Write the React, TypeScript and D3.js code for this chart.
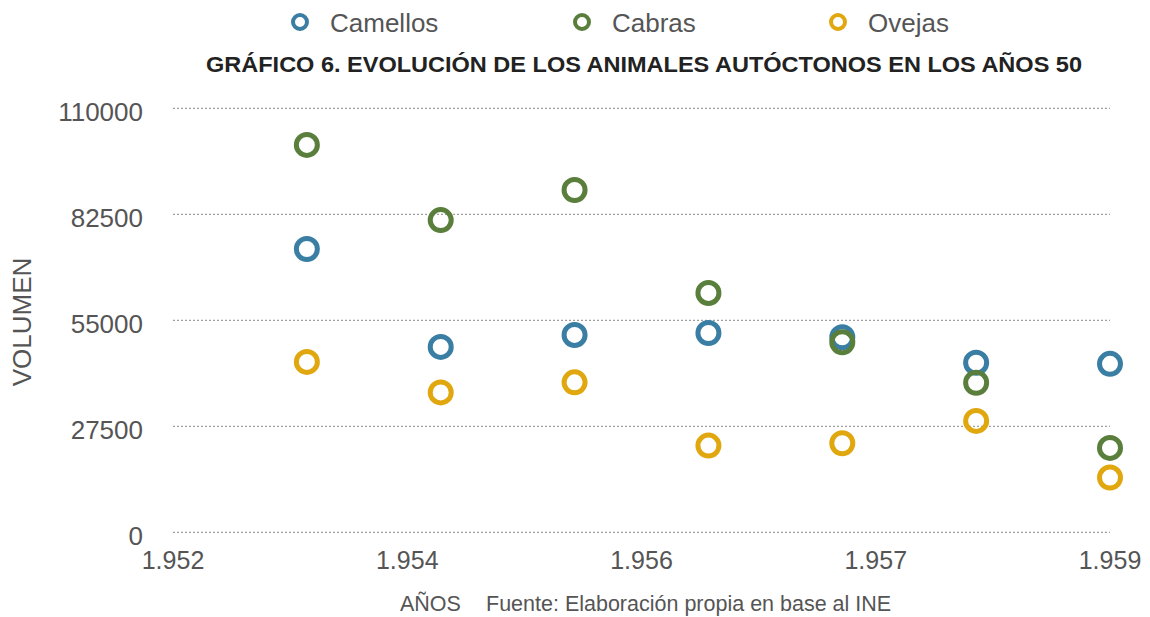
import * as d3 from "d3";

const years = [1953, 1954, 1955, 1956, 1957, 1958, 1959];
const camellos = [73500, 48100, 51200, 51700, 50600, 44000, 43700];
const cabras = [100500, 81000, 88800, 62100, 49300, 38800, 21900];
const ovejas = [44200, 36300, 38900, 22500, 23100, 28900, 14200];
const seriesNames = ["Camellos", "Cabras", "Ovejas"];
const seriesColors = ["#3a7ea3", "#5a7f3c", "#e1a70f"];
const yTickValues = [0, 27500, 55000, 82500, 110000];
const xTickValues = [1952, 1953.75, 1955.5, 1957.25, 1959];

const width = 1150;
const height = 617;
const margin = { top: 108.3, right: 40, bottom: 85, left: 173 };

const esLocale = d3.formatLocale({
  decimal: ",",
  thousands: ".",
  grouping: [3],
  currency: ["", " €"]
});
const fmtYear = esLocale.format(",.0f");

export default function App() {
  const series = [camellos, cabras, ovejas];

  const xScale = d3.scaleLinear()
    .domain([1952, 1959])
    .range([margin.left, 1110]);

  const yScale = d3.scaleLinear()
    .domain([0, 110000])
    .range([532.3, margin.top]);

  const legendX = [300, 582, 838];
  const textColor = "#555";
  const font = "'Liberation Sans', Arial, sans-serif";

  return (
    <svg
      width={width}
      height={height}
      style={{ position: "absolute", left: 0, top: 0, background: "#fff" }}
      fontFamily={font}
    >
      {/* Legend */}
      {seriesNames.map((name, i) => (
        <g key={name}>
          <circle cx={legendX[i]} cy={22} r={7} fill="none" stroke={seriesColors[i]} strokeWidth={4} />
          <text x={legendX[i] + 30} y={31.5} fontSize={26} fill={textColor}>{name}</text>
        </g>
      ))}

      {/* Title */}
      <text
        x={206}
        y={72}
        fontSize={21.5}
        fontWeight="bold"
        fill="#222"
        textLength={876}
        lengthAdjust="spacingAndGlyphs"
      >
        GRÁFICO 6. EVOLUCIÓN DE LOS ANIMALES AUTÓCTONOS EN LOS AÑOS 50
      </text>

      {/* Grid + y ticks */}
      {yTickValues.map(t => (
        <g key={t}>
          <line
            x1={xScale(1952)}
            x2={xScale(1959)}
            y1={yScale(t)}
            y2={yScale(t)}
            stroke="#888"
            strokeWidth={1}
            strokeDasharray="2,2"
          />
          <text
            x={143}
            y={yScale(t) + 12.5}
            textAnchor="end"
            fontSize={26}
            fill={textColor}
          >
            {t}
          </text>
        </g>
      ))}

      {/* X ticks */}
      {xTickValues.map(t => (
        <text
          key={t}
          x={xScale(t)}
          y={569}
          textAnchor="middle"
          fontSize={25}
          fill={textColor}
        >
          {fmtYear(Math.round(t))}
        </text>
      ))}

      {/* Axis titles */}
      <text
        transform={`translate(31,322) rotate(-90)`}
        textAnchor="middle"
        fontSize={26}
        fill={textColor}
      >
        VOLUMEN
      </text>
      <text x={400} y={611} fontSize={21.5} fill={textColor}>AÑOS</text>
      <text x={486} y={611} fontSize={21.5} fill={textColor}>Fuente: Elaboración propia en base al INE</text>

      {/* Points */}
      {series.map((vals, si) => (
        <g key={seriesNames[si]}>
          {vals.map((v, i) => (
            <circle
              key={i}
              cx={xScale(years[i])}
              cy={yScale(v)}
              r={10.5}
              fill="none"
              stroke={seriesColors[si]}
              strokeWidth={5}
            />
          ))}
        </g>
      ))}
    </svg>
  );
}
